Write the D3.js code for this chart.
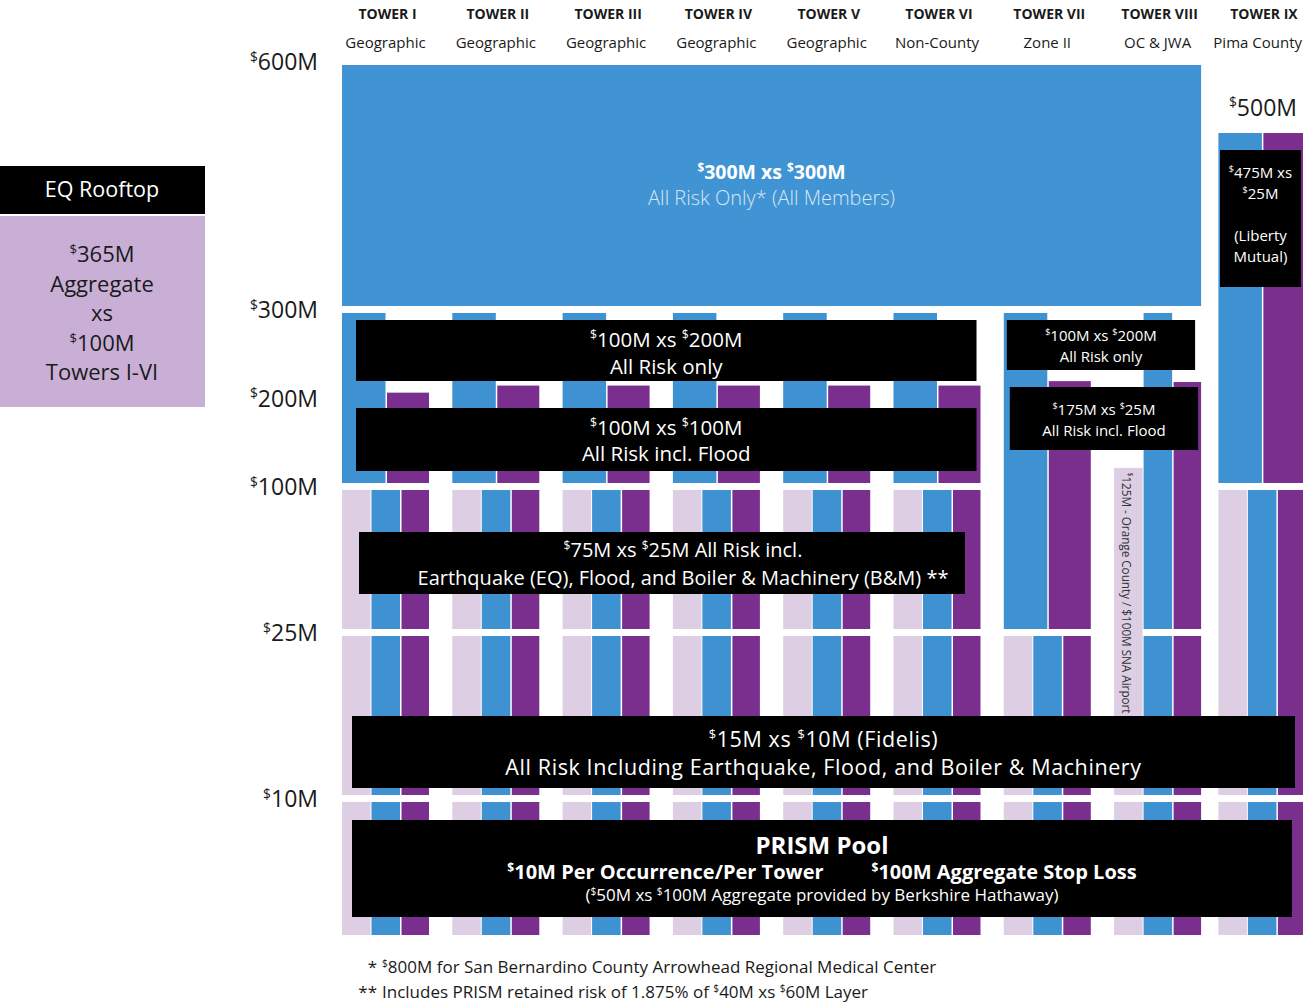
<!DOCTYPE html>
<html>
<head>
<meta charset="utf-8">
<script src="https://cdn.jsdelivr.net/npm/d3@7"></script>
<style>
  body { margin: 0; background: #fff; }
  svg { display: block; }
  text { font-family: "Open Sans", "Noto Sans", "DejaVu Sans", sans-serif; }
</style>
</head>
<body>
<svg id="chart" width="1303" height="1003"></svg>
<script>
// ---------- data ----------
const towers = ["TOWER I", "TOWER II", "TOWER III", "TOWER IV", "TOWER V", "TOWER VI", "TOWER VII", "TOWER VIII", "TOWER IX"];
const towerGroups = ["Geographic", "Geographic", "Geographic", "Geographic", "Geographic", "Non-County", "Zone II", "OC & JWA", "Pima County"];

// layer attachment points ($M) used as knots of the piecewise value axis
const layerBreaks = [0, 10, 25, 100, 300, 500, 600];
const axisTicks = [600, 300, 200, 100, 25, 10];
const axisLabels = ["$600M", "$300M", "$200M", "$100M", "$25M", "$10M"];

// coverage columns per tower: [tower index, column, from $M, to $M]
// L = retained (lavender), B = all risk (blue), P = flood / EQ (purple); W = half-width column
const segments = [
  // Tower I
  [0, "L", 0, 10], [0, "B", 0, 10], [0, "P", 0, 10],
  [0, "L", 10, 25], [0, "B", 10, 25], [0, "P", 10, 25],
  [0, "L", 25, 100], [0, "B", 25, 100], [0, "P", 25, 100],
  [0, "BW", 100, 300], [0, "PW", 100, 210],
  // Tower II
  [1, "L", 0, 10], [1, "B", 0, 10], [1, "P", 0, 10],
  [1, "L", 10, 25], [1, "B", 10, 25], [1, "P", 10, 25],
  [1, "L", 25, 100], [1, "B", 25, 100], [1, "P", 25, 100],
  [1, "BW", 100, 300], [1, "PW", 100, 218],
  // Tower III
  [2, "L", 0, 10], [2, "B", 0, 10], [2, "P", 0, 10],
  [2, "L", 10, 25], [2, "B", 10, 25], [2, "P", 10, 25],
  [2, "L", 25, 100], [2, "B", 25, 100], [2, "P", 25, 100],
  [2, "BW", 100, 300], [2, "PW", 100, 218],
  // Tower IV
  [3, "L", 0, 10], [3, "B", 0, 10], [3, "P", 0, 10],
  [3, "L", 10, 25], [3, "B", 10, 25], [3, "P", 10, 25],
  [3, "L", 25, 100], [3, "B", 25, 100], [3, "P", 25, 100],
  [3, "BW", 100, 300], [3, "PW", 100, 218],
  // Tower V
  [4, "L", 0, 10], [4, "B", 0, 10], [4, "P", 0, 10],
  [4, "L", 10, 25], [4, "B", 10, 25], [4, "P", 10, 25],
  [4, "L", 25, 100], [4, "B", 25, 100], [4, "P", 25, 100],
  [4, "BW", 100, 300], [4, "PW", 100, 218],
  // Tower VI
  [5, "L", 0, 10], [5, "B", 0, 10], [5, "P", 0, 10],
  [5, "L", 10, 25], [5, "B", 10, 25], [5, "P", 10, 25],
  [5, "L", 25, 100], [5, "B", 25, 100], [5, "P", 25, 100],
  [5, "BW", 100, 300], [5, "PW", 100, 218],
  // Tower VII
  [6, "L", 0, 10], [6, "B", 0, 10], [6, "P", 0, 10],
  [6, "L", 10, 25], [6, "B", 10, 25], [6, "P", 10, 25],
  [6, "BW", 25, 300], [6, "PW", 25, 223],
  // Tower VIII
  [7, "L", 0, 10], [7, "B", 0, 10], [7, "P", 0, 10],
  [7, "B", 10, 25], [7, "P", 10, 25], [7, "L", 10, 125],
  [7, "B", 25, 300], [7, "P", 25, 222],
  // Tower IX
  [8, "L", 0, 10], [8, "B", 0, 10], [8, "P", 0, 10],
  [8, "L", 10, 100], [8, "B", 10, 100], [8, "P", 10, 100],
  [8, "BW", 100, 500], [8, "PW", 100, 500]
];

// shared all-member layer
const sharedLayer = { span: [0, 7], from: 300, to: 600, lines: ["$300M xs $300M", "All Risk Only* (All Members)"] };

// layer description boxes
const boxes = [
  { span: [0, 5], lines: ["$100M xs $200M", "All Risk only"] },
  { span: [0, 5], lines: ["$100M xs $100M", "All Risk incl. Flood"] },
  { span: [6, 7], lines: ["$100M xs $200M", "All Risk only"] },
  { span: [6, 7], lines: ["$175M xs $25M", "All Risk incl. Flood"] },
  { span: [0, 5], lines: ["$75M xs $25M All Risk incl.", "Earthquake (EQ), Flood, and Boiler & Machinery (B&M) **"] },
  { span: [0, 8], lines: ["$15M xs $10M (Fidelis)", "All Risk Including Earthquake, Flood, and Boiler & Machinery"] },
  { span: [0, 8], lines: ["PRISM Pool", "$10M Per Occurrence/Per Tower|$100M Aggregate Stop Loss", "($50M xs $100M Aggregate provided by Berkshire Hathaway)"] },
  { span: [8, 8], lines: ["$475M xs", "$25M", "", "(Liberty", "Mutual)"] }
];

const stripNote = { tower: 7, at: 125, text: "125M - Orange County / $100M SNA Airport" };
const rooftopTitle = "EQ Rooftop";
const rooftopLines = ["$365M", "Aggregate", "xs", "$100M", "Towers I-VI"];
const footnotes = [
  ["*", "$800M for San Bernardino County Arrowhead Regional Medical Center"],
  ["**", "Includes PRISM retained risk  of 1.875% of $40M xs $60M Layer"]
];
const ixTop = 500;

// ---------- layout ----------
const W = 1303;
const svg = d3.select("#chart");
const colors = { L: "#ddcee4", B: "#3f92d2", BW: "#3f92d2", P: "#7a2f8e", PW: "#7a2f8e" };
const colFrac = { L: [0, 0.3276], B: [0.339, 0.667], P: [0.684, 1], BW: [0, 0.5], PW: [0.517, 1] };
const inset = 3.5;

const y = d3.scaleLinear().domain(layerBreaks).range([938.5, 798.5, 632.5, 486.5, 309.5, 129.5, 61.5]);
const xb = d3.scaleBand().domain(towers).range([342, 1311.4]).paddingInner(0.2112).paddingOuter(0);
const gw = xb.bandwidth();
// the Pima County tower sits slightly closer to the shared block
const tx = i => xb(towers[i]) + (i === 8 ? -6 : 0);

// text with raised, reduced "$" glyphs; "|" inserts a wide gap
function rich(sel, str, fs, gap = 48) {
  let raised = false;
  let pendingGap = false;
  str.split(/(\$|\|)/).forEach(p => {
    if (p === "|") { pendingGap = true; return; }
    if (p === "$") {
      const t = sel.append("tspan").attr("font-size", fs * 0.6).attr("dy", -fs * 0.36).text("$");
      if (pendingGap) { t.attr("dx", gap); pendingGap = false; }
      raised = true;
    } else if (p.length) {
      const t = sel.append("tspan").attr("font-size", fs).attr("dy", raised ? fs * 0.36 : 0).text(p);
      if (pendingGap) { t.attr("dx", gap); pendingGap = false; }
      raised = false;
    }
  });
  return sel;
}

// ---------- tower columns ----------
svg.append("g").selectAll("rect").data(segments).join("rect")
  .attr("x", d => tx(d[0]) + colFrac[d[1]][0] * gw)
  .attr("width", d => (colFrac[d[1]][1] - colFrac[d[1]][0]) * gw)
  .attr("y", d => y(d[3]) + inset)
  .attr("height", d => y(d[2]) - y(d[3]) - 2 * inset)
  .attr("fill", d => colors[d[1]]);

// shared 300M xs 300M layer
{
  const x0 = tx(sharedLayer.span[0]);
  const x1 = tx(sharedLayer.span[1]) + gw;
  const top = y(sharedLayer.to) + inset;
  const bot = y(sharedLayer.from) - inset;
  svg.append("rect").attr("x", x0).attr("y", top).attr("width", x1 - x0).attr("height", bot - top).attr("fill", "#4194d3");
  const cx = (x0 + x1) / 2;
  rich(svg.append("text").attr("x", cx).attr("y", 179).attr("text-anchor", "middle")
    .attr("fill", "#fff").attr("font-weight", 700), sharedLayer.lines[0], 19.5);
  rich(svg.append("text").attr("x", cx).attr("y", 205).attr("text-anchor", "middle")
    .attr("fill", "#d6e6f4").attr("font-weight", 300), sharedLayer.lines[1], 20);
}

// strip note inside Tower VIII
{
  const cx = tx(stripNote.tower) + (colFrac.L[0] + colFrac.L[1]) / 2 * gw - 1.5;
  const t = svg.append("text")
    .attr("transform", `translate(${cx},${y(stripNote.at) + 8}) rotate(90)`)
    .attr("dominant-baseline", "central").attr("fill", "#333");
  t.append("tspan").attr("font-size", 7).attr("dy", -4).text("$");
  t.append("tspan").attr("font-size", 11.7).attr("dy", 4).text(stripNote.text);
}

// ---------- layer boxes ----------
const boxLayout = [
  { x0: 14, x1: -4, anchor: 300, top: 10.5, h: 61, fs: [20.5, 20.5], base: [26.5, 53.5] },
  { x0: 14, x1: -4, anchor: 200, top: 10, h: 63, fs: [20.5, 20.5], base: [26.5, 52.5] },
  { x0: 3, x1: -6, anchor: 300, top: 10.5, h: 50, fs: [15, 15], base: [20.5, 41.5] },
  { x0: 6, x1: -3, anchor: 200, top: -11, h: 63, fs: [15, 15], base: [27.5, 48.5] },
  { x0: 17, x1: -15.5, anchor: 100, top: 45.5, h: 62, fs: [20, 20], base: [25, 52.5], dx: 21 },
  { x0: 10, x1: -10.4, anchor: 25, top: 83.5, h: 72, fs: [21.5, 21.5], base: [31, 58.5], ls: 0.6 },
  { x0: 10, x1: -13.4, anchor: 10, top: 21.5, h: 97, fs: [24, 20, 17], bold: [1, 1, 0], base: [33.5, 59, 81] },
  { x0: 1.6, x1: -4.4, anchor: ixTop, top: 20.5, h: 137, fs: [15, 15, 15, 15, 15], base: [27.5, 48.5, 69.5, 90.5, 111.5] }
];

boxes.forEach((b, i) => {
  const L = boxLayout[i];
  const x0 = tx(b.span[0]) + L.x0;
  const x1 = tx(b.span[1]) + gw + L.x1;
  const top = y(L.anchor) + L.top;
  svg.append("rect").attr("x", x0).attr("y", top).attr("width", x1 - x0).attr("height", L.h).attr("fill", "#000");
  const cx = (x0 + x1) / 2 + (L.dx || 0);
  b.lines.forEach((ln, j) => {
    if (!ln) return;
    const t = svg.append("text").attr("x", cx).attr("y", top + L.base[j])
      .attr("text-anchor", "middle").attr("fill", "#fff")
      .attr("letter-spacing", L.ls || 0)
      .attr("font-weight", L.bold && L.bold[j] ? 700 : 400);
    rich(t, ln, L.fs[j]);
  });
});

// ---------- axis labels ----------
svg.append("g").selectAll("text").data(axisTicks).join("text")
  .attr("x", 318).attr("y", d => y(d) + 8.5).attr("text-anchor", "end").attr("fill", "#1a1a1a")
  .each(function (d, i) { rich(d3.select(this), axisLabels[i], 23); });

rich(svg.append("text").attr("x", tx(8) + 78.6).attr("y", y(ixTop) - 14)
  .attr("text-anchor", "end").attr("fill", "#1a1a1a"), "$500M", 23);

// ---------- tower headers ----------
const head = svg.append("g").selectAll("g").data(towers).join("g");
head.append("text").attr("x", (d, i) => tx(i) + gw / 2 + 2).attr("y", 18.5)
  .attr("text-anchor", "middle").attr("font-weight", 700).attr("font-size", 14).attr("fill", "#1a1a1a").text(d => d);
head.append("text").attr("y", 48)
  .attr("text-anchor", "middle").attr("font-size", 15).attr("fill", "#1a1a1a").text((d, i) => towerGroups[i])
  .attr("x", function (d, i) {
    const w = this.getComputedTextLength();
    return Math.min(tx(i) + gw / 2, W - 1 - w / 2);
  });

// ---------- EQ rooftop panel ----------
svg.append("rect").attr("x", -2).attr("y", 166).attr("width", 207).attr("height", 48).attr("fill", "#000");
svg.append("text").attr("x", 102).attr("y", 197).attr("text-anchor", "middle").attr("fill", "#fff")
  .attr("font-size", 21.5).text(rooftopTitle);
svg.append("rect").attr("x", 0).attr("y", 216).attr("width", 205).attr("height", 191).attr("fill", "#c9afd6");
rooftopLines.forEach((ln, j) => {
  rich(svg.append("text").attr("x", 102).attr("y", 262 + j * 29.5).attr("text-anchor", "middle").attr("fill", "#1a1a1a"), ln, 22);
});

// ---------- footnotes ----------
footnotes.forEach((f, j) => {
  const by = 973 + j * 25;
  svg.append("text").attr("x", 377).attr("y", by).attr("text-anchor", "end").attr("font-size", 17).attr("fill", "#1a1a1a").text(f[0]);
  rich(svg.append("text").attr("x", 382).attr("y", by).attr("fill", "#1a1a1a"), f[1], 17);
});
</script>
</body>
</html>
